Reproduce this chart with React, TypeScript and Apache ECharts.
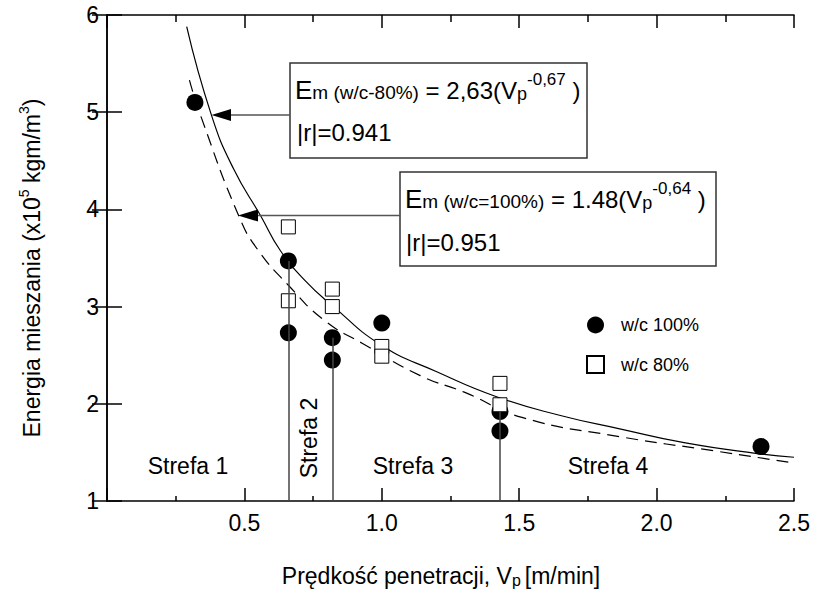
import React, { useEffect, useRef } from 'react';
import * as echarts from 'echarts';

// Measured data (w/c 100% = filled circles, w/c 80% = open squares)
const circleX = [0.32, 0.66, 0.66, 0.82, 0.82, 1.0, 1.43, 1.43, 2.38];
const circleY = [5.1, 3.47, 2.73, 2.68, 2.45, 2.83, 1.92, 1.72, 1.56];
const squareX = [0.66, 0.66, 0.82, 0.82, 1.0, 1.0, 1.43, 1.43];
const squareY = [3.82, 3.06, 3.18, 3.0, 2.59, 2.49, 2.21, 1.99];

// Fitted curves
const solidX = [0.29, 0.38, 0.46, 0.56, 0.63, 0.72, 0.82, 1.0, 1.2, 1.42, 1.65, 1.87, 2.1, 2.36, 2.5];
const solidY = [5.88, 4.97, 4.42, 3.93, 3.58, 3.27, 3.01, 2.6, 2.33, 2.07, 1.88, 1.74, 1.6, 1.49, 1.45];
const dashX = [0.3, 0.34, 0.48, 0.55, 0.66, 0.79, 0.93, 1.14, 1.3, 1.51, 1.87, 2.2, 2.5];
const dashY = [5.33, 4.97, 3.93, 3.58, 3.22, 2.86, 2.62, 2.29, 2.12, 1.86, 1.66, 1.52, 1.39];

// Zone dividers
const dividerX = [0.66, 0.82, 1.43];
const dividerTop = [3.47, 2.68, 1.92];

const xTicks = ['0.5', '1.0', '1.5', '2.0', '2.5'];
const legendNames = ['w/c 100%', 'w/c 80%'];

const FONT = 'Liberation Sans, Arial, Helvetica, sans-serif';

export default function App() {
  const ref = useRef<HTMLDivElement>(null);
  useEffect(() => {
    document.body.style.margin = '0';
    if (!ref.current) return;
    const chart = echarts.init(ref.current, undefined, { renderer: 'svg' });
    const axisLineStyle = { color: '#000', width: 1.5 };
    const zip = (a: number[], b: number[]) => a.map((v, i) => [v, b[i]]);

    const mainRich = {
      e: { fontSize: 26, fontFamily: FONT, color: '#000', lineHeight: 38 },
      n: { fontSize: 24, fontFamily: FONT, color: '#000', lineHeight: 38 },
      s: { fontSize: 19, fontFamily: FONT, color: '#000', lineHeight: 38, padding: [5, 0, 0, 0] },
      sub: { fontSize: 18, fontFamily: FONT, color: '#000', lineHeight: 38, padding: [8, 0, 0, 0] },
      sup: { fontSize: 17, fontFamily: FONT, color: '#000', lineHeight: 38, padding: [0, 0, 22, 0] },
    };

    const option: any = {
      animation: false,
      backgroundColor: '#fff',
      textStyle: { fontFamily: FONT },
      grid: { left: 107, top: 15, right: 23, bottom: 91 },
      xAxis: [
        {
          type: 'value', min: 0, max: 2.5, interval: 0.5, position: 'bottom',
          axisLine: { show: true, lineStyle: axisLineStyle },
          axisTick: { show: true, inside: true, length: 13, lineStyle: axisLineStyle },
          minorTick: { show: true, splitNumber: 2, length: 5, lineStyle: axisLineStyle },
          splitLine: { show: false }, minorSplitLine: { show: false },
          axisLabel: {
            fontSize: 23, color: '#000', fontFamily: FONT, margin: 10,
            formatter: (v: number) => {
              const idx = Math.round(v / 0.5) - 1;
              return idx >= 0 ? xTicks[idx] : '';
            },
          },
        },
        {
          type: 'value', min: 0, max: 2.5, interval: 0.5, position: 'top',
          axisLine: { show: true, lineStyle: axisLineStyle },
          axisTick: { show: true, inside: true, length: 13, lineStyle: axisLineStyle },
          minorTick: { show: true, splitNumber: 2, length: 7, lineStyle: axisLineStyle },
          splitLine: { show: false }, axisLabel: { show: false },
        },
      ],
      yAxis: [
        {
          type: 'value', min: 1, max: 6, interval: 1, position: 'left',
          axisLine: { show: true, lineStyle: axisLineStyle },
          axisTick: { show: true, inside: true, length: 15, lineStyle: axisLineStyle },
          splitLine: { show: false },
          axisLabel: { fontSize: 23, color: '#000', fontFamily: FONT, margin: 8 },
        },
        {
          type: 'value', min: 1, max: 6, interval: 1, position: 'right',
          axisLine: { show: true, lineStyle: axisLineStyle },
          axisTick: { show: true, inside: true, length: 15, lineStyle: axisLineStyle },
          splitLine: { show: false }, axisLabel: { show: false },
        },
      ],
      legend: {
        orient: 'vertical', left: 581, top: 311, itemWidth: 17, itemHeight: 17, itemGap: 21,
        data: [
          { name: legendNames[0], icon: 'circle' },
          { name: legendNames[1], icon: 'rect' },
        ],
        textStyle: { fontSize: 18, color: '#000', fontFamily: FONT, padding: [0, 0, 0, 12] },
      },
      series: [
        {
          type: 'line', name: 'fit80', data: zip(solidX, solidY), smooth: 0.5,
          showSymbol: false, symbol: 'none', lineStyle: { color: '#000', width: 1.2 }, z: 2,
        },
        {
          type: 'line', name: 'fit100', data: zip(dashX, dashY), smooth: 0.5,
          showSymbol: false, symbol: 'none', lineStyle: { color: '#000', width: 1.2, type: [12, 7] }, z: 2,
        },
        {
          type: 'scatter', name: legendNames[0], data: zip(circleX, circleY),
          symbol: 'circle', symbolSize: 17, itemStyle: { color: '#000', opacity: 1 }, z: 3,
          markLine: {
            silent: true, symbol: ['none', 'none'], label: { show: false },
            lineStyle: { color: '#444', width: 1.5, type: 'solid' },
            data: dividerX.map((x, i) => [{ coord: [x, 1] }, { coord: [x, dividerTop[i]] }]),
          },
        },
        {
          type: 'scatter', name: legendNames[1], data: zip(squareX, squareY),
          symbol: 'rect', symbolSize: 14,
          itemStyle: { color: '#fff', borderColor: '#000', borderWidth: 1, opacity: 1 }, z: 4,
        },
      ],
      graphic: [
        // Box 1
        { type: 'rect', shape: { x: 290, y: 63, width: 297, height: 95 }, style: { fill: '#fff', stroke: '#333', lineWidth: 1.5 }, z: 10 },
        {
          type: 'text', x: 295, y: 90, z: 11,
          style: {
            text: '{e|E}{s|m (w/c-80%)}{n| = 2,63(V}{sub|p}{sup|-0,67}{n| )}',
            align: 'left', verticalAlign: 'middle', rich: mainRich,
          },
        },
        { type: 'text', x: 297, y: 132, z: 11, style: { text: '|r|=0.941', fontSize: 24, fontFamily: FONT, fill: '#000', align: 'left', verticalAlign: 'middle' } },
        { type: 'line', shape: { x1: 230, y1: 115, x2: 290, y2: 115 }, style: { stroke: '#555', lineWidth: 1.5 }, z: 10 },
        { type: 'polygon', shape: { points: [[211.5, 115], [231, 109], [231, 121]] }, style: { fill: '#000' }, z: 10 },
        // Box 2
        { type: 'rect', shape: { x: 400, y: 172, width: 316, height: 94 }, style: { fill: '#fff', stroke: '#333', lineWidth: 1.5 }, z: 10 },
        {
          type: 'text', x: 405, y: 199, z: 11,
          style: {
            text: '{e|E}{s|m (w/c=100%)}{n| = 1.48(V}{sub|p}{sup|-0,64}{n| )}',
            align: 'left', verticalAlign: 'middle', rich: mainRich,
          },
        },
        { type: 'text', x: 406, y: 242, z: 11, style: { text: '|r|=0.951', fontSize: 24, fontFamily: FONT, fill: '#000', align: 'left', verticalAlign: 'middle' } },
        { type: 'line', shape: { x1: 257, y1: 215.5, x2: 400, y2: 215.5 }, style: { stroke: '#555', lineWidth: 1.5 }, z: 10 },
        { type: 'polygon', shape: { points: [[238, 215.5], [258, 209.5], [258, 221.5]] }, style: { fill: '#000' }, z: 10 },
        // Zone labels
        { type: 'text', x: 188, y: 466, style: { text: 'Strefa 1', fontSize: 23, fontFamily: FONT, fill: '#000', align: 'center', verticalAlign: 'middle' } },
        { type: 'text', x: 309, y: 438, rotation: Math.PI / 2, style: { text: 'Strefa 2', fontSize: 23, fontFamily: FONT, fill: '#000', align: 'center', verticalAlign: 'middle' } },
        { type: 'text', x: 413, y: 466, style: { text: 'Strefa 3', fontSize: 23, fontFamily: FONT, fill: '#000', align: 'center', verticalAlign: 'middle' } },
        { type: 'text', x: 608, y: 466, style: { text: 'Strefa 4', fontSize: 23, fontFamily: FONT, fill: '#000', align: 'center', verticalAlign: 'middle' } },
        // Axis titles
        {
          type: 'text', x: 441, y: 576,
          style: {
            text: '{n|Prędkość penetracji, V}{sub|p}{n|[m/min]}',
            align: 'center', verticalAlign: 'middle',
            rich: {
              n: { fontSize: 23, fontFamily: FONT, color: '#000', lineHeight: 30 },
              sub: { fontSize: 16, fontFamily: FONT, color: '#000', lineHeight: 30, padding: [8, 4, 0, 0] },
            },
          },
        },
        {
          type: 'text', x: 32, y: 268, rotation: Math.PI / 2,
          style: {
            text: '{n|Energia mieszania (x10}{sup|5}{n| kgm/m}{sup|3}{n|)}',
            align: 'center', verticalAlign: 'middle',
            rich: {
              n: { fontSize: 23, fontFamily: FONT, color: '#000', lineHeight: 30 },
              sup: { fontSize: 14, fontFamily: FONT, color: '#000', lineHeight: 30, padding: [0, 0, 16, 0] },
            },
          },
        },
      ],
    };
    chart.setOption(option);
    return () => chart.dispose();
  }, []);
  return <div ref={ref} style={{ width: 817, height: 592 }} />;
}
